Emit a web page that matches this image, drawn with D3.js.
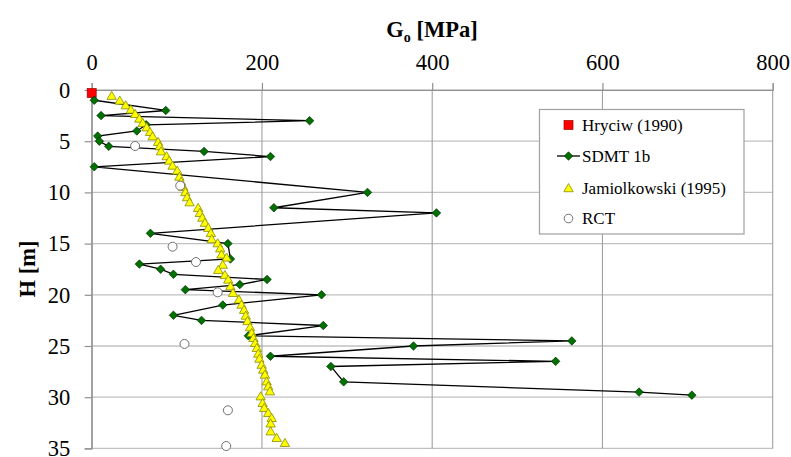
<!DOCTYPE html>
<html><head><meta charset="utf-8">
<script src="https://cdn.jsdelivr.net/npm/d3@7"></script>
<style>body{margin:0;background:#fff}svg{display:block}text{font-family:"Liberation Serif","Times New Roman",serif}</style>
</head><body><svg id="c" width="791" height="457"></svg>
<script>
const xTicks=[0,200,400,600,800];
const yTicks=[0,5,10,15,20,25,30,35];
const seriesNames=["Hryciw (1990)","SDMT 1b","Jamiolkowski (1995)","RCT"];
// [H (m), G0 (MPa)]
const hryciw=[[0.3,0]];
const sdmt=[[1.0,3],[2.0,87],[2.5,11],[3.0,256],[3.4,64],[4.0,53],[4.5,7],[5.0,9],[5.5,20],[6.0,132],[6.5,210],[7.5,3],[10.0,324],[11.5,214],[12.0,405],[14.0,69],[15.0,160],[16.5,163],[17.0,56],[17.5,81],[18.0,96],[18.5,206],[19.0,174],[19.5,110],[20.0,270],[21.0,154],[22.0,96],[22.5,129],[23.0,272],[24.0,184],[24.5,564],[25.0,378],[26.0,210],[26.5,545],[27.0,281],[28.5,296],[29.5,643],[29.8,705]];
const jamiolkowski=[[0.6,23.5],[1.07,33],[1.53,40],[1.95,46],[2.37,51],[2.83,56],[3.25,60],[3.68,64.6],[4.13,68.5],[4.56,71.6],[5.1,78],[5.53,80],[6.02,81.4],[6.5,88],[6.93,91],[7.42,95],[7.91,100.5],[8.5,103],[9.0,105],[9.5,107.6],[10.0,110],[10.5,112],[11.0,115],[11.55,125],[12.04,127],[12.5,130],[13.0,133],[13.5,137],[14.0,140],[14.6,141],[15.0,148],[15.5,151],[16.1,152.5],[16.4,158.5],[17.1,154],[17.6,148.7],[18.1,156.5],[18.55,160.4],[19.2,163],[19.85,166],[20.5,173],[21.0,176],[21.5,179],[22.07,181],[22.6,183],[23.2,186],[23.76,188],[24.25,190],[24.74,192],[25.22,194],[25.78,195.7],[26.27,197],[26.86,199.6],[27.34,201.5],[27.83,203.5],[28.49,205.5],[28.97,207.4],[29.46,209.4],[29.95,198.5],[30.6,200.8],[31.08,202.7],[31.57,207.4],[32.06,211.4],[32.6,210.2],[33.37,210.2],[34.01,217.3],[34.5,227]];
const rct=[[5.47,51],[9.34,104],[15.3,95],[16.8,122.5],[19.76,148],[24.8,109],[31.28,160],[34.77,158]];

const svg=d3.select("#c");
const L=91.7,R=772.7,T=90,B=448.4;
const x=d3.scaleLinear().domain([0,800]).range([L,R]);
const y=d3.scaleLinear().domain([0,35]).range([T,B]);
const serif="'Liberation Serif','Times New Roman',serif";

// gridlines
svg.append("g").selectAll("line").data(yTicks).join("line")
 .attr("x1",L).attr("x2",R).attr("y1",d=>y(d)).attr("y2",d=>y(d))
 .attr("stroke","#c0c0c0").attr("stroke-width",1.3);
svg.append("g").selectAll("line").data(xTicks).join("line")
 .attr("y1",T).attr("y2",B).attr("x1",d=>x(d)).attr("x2",d=>x(d))
 .attr("stroke","#a0a0a0").attr("stroke-width",1.1);

// axes
const gx=svg.append("g").attr("transform",`translate(0,${T})`)
 .call(d3.axisTop(x).tickValues(xTicks).tickSize(7).tickPadding(13).tickFormat(d3.format("d")));
const gy=svg.append("g").attr("transform",`translate(${L},0)`)
 .call(d3.axisLeft(y).tickValues(yTicks).tickSize(7).tickPadding(14.5).tickFormat(d3.format("d")));
[gx,gy].forEach(g=>{
 g.attr("font-family",serif).attr("font-size",22.5);
 g.select(".domain").attr("stroke","#909090").attr("stroke-width",1.2);
 g.selectAll(".tick line").attr("stroke","#909090").attr("stroke-width",1.2);
 g.selectAll("text").attr("font-size",22.5).attr("fill","#000").attr("font-family",serif).style("font-family",serif);
});

// titles
const t=svg.append("text").attr("x",432).attr("y",37).attr("text-anchor","middle")
 .attr("font-size",22.5).attr("font-weight","bold").attr("font-family",serif);
t.append("tspan").text("G");
t.append("tspan").attr("font-size",14).attr("dy",5).text("o");
t.append("tspan").attr("dy",-5).text(" [MPa]");
svg.append("text").attr("transform","translate(35,269) rotate(-90)").attr("text-anchor","middle")
 .attr("font-size",22.5).attr("font-weight","bold").attr("font-family",serif).text("H [m]");

// series
const diamond=d3.symbol().type(d3.symbolDiamond2).size(46);
const tri=d3.symbol().type(d3.symbolTriangle).size(38);
const line=d3.line().x(d=>x(d[1])).y(d=>y(d[0]));

svg.append("g").selectAll("rect").data(hryciw).join("rect")
 .attr("x",d=>x(d[1])-4.5).attr("y",d=>y(d[0])-4.5).attr("width",9).attr("height",9)
 .attr("fill","#ff0000").attr("stroke","#a00000").attr("stroke-width",0.7);

svg.append("path").datum(sdmt).attr("d",line).attr("fill","none").attr("stroke","#000").attr("stroke-width",1.3);
svg.append("g").selectAll("path").data(sdmt).join("path")
 .attr("transform",d=>`translate(${x(d[1])},${y(d[0])})`).attr("d",diamond)
 .attr("fill","#007000").attr("stroke","#003000").attr("stroke-width",0.7);

svg.append("g").selectAll("path").data(jamiolkowski).join("path")
 .attr("transform",d=>`translate(${x(d[1])},${y(d[0])+0.5})`).attr("d",tri)
 .attr("fill","#ffff00").attr("stroke","#8a8a00").attr("stroke-width",0.8);

svg.append("g").selectAll("circle").data(rct).join("circle")
 .attr("cx",d=>x(d[1])).attr("cy",d=>y(d[0])).attr("r",4.5)
 .attr("fill","#fff").attr("stroke","#707070").attr("stroke-width",1);

// legend
const lg=svg.append("g");
lg.append("rect").attr("x",539.5).attr("y",109.5).attr("width",204.5).attr("height",124.5)
 .attr("fill","#fff").attr("stroke","#a0a0a0").attr("stroke-width",1.2);
const ly=[125,156,188.5,218.5];
lg.append("rect").attr("x",564).attr("y",ly[0]-4.5).attr("width",9).attr("height",9)
 .attr("fill","#ff0000").attr("stroke","#a00000").attr("stroke-width",0.7);
lg.append("line").attr("x1",557).attr("x2",580).attr("y1",ly[1]).attr("y2",ly[1]).attr("stroke","#000").attr("stroke-width",1.3);
lg.append("path").attr("transform",`translate(568.5,${ly[1]})`).attr("d",diamond)
 .attr("fill","#007000").attr("stroke","#003000").attr("stroke-width",0.7);
lg.append("path").attr("transform",`translate(568.5,${ly[2]+0.5})`).attr("d",tri)
 .attr("fill","#ffff00").attr("stroke","#8a8a00").attr("stroke-width",0.8);
lg.append("circle").attr("cx",568.5).attr("cy",ly[3]).attr("r",4.3)
 .attr("fill","#fff").attr("stroke","#707070").attr("stroke-width",1);
lg.selectAll("text.l").data(seriesNames).join("text").attr("class","l")
 .attr("x",582).attr("y",(d,i)=>ly[i]).attr("dy","0.35em").attr("font-size",17).attr("font-family",serif).text(d=>d);
</script></body></html>
